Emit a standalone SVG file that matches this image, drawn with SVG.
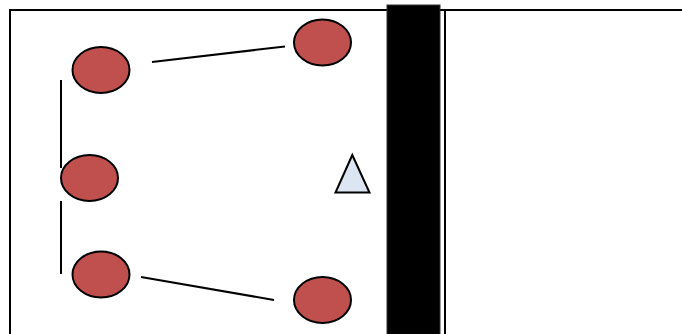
<svg xmlns="http://www.w3.org/2000/svg" width="682" height="334" viewBox="0 0 682 334">
<style>
.n{fill:#c0504d;stroke:#000;stroke-width:2}
.c{stroke:#000;stroke-width:2;fill:none}
.f{stroke:#000;stroke-width:2;fill:none}
</style>
<rect width="682" height="334" fill="#fff"/>
<g id="frame">
<path class="f" d="M10 334V10H682"/>
<line class="f" x1="445" y1="10" x2="445" y2="334"/>
<rect id="bar" x="387" y="5" width="53" height="330" fill="#000" stroke="#333" stroke-width="1"/>
</g>
<g id="connectors">
<line class="c" x1="152" y1="62" x2="285" y2="46.5"/>
<line class="c" x1="61" y1="80" x2="61" y2="168"/>
<line class="c" x1="61" y1="201" x2="61" y2="274"/>
<line class="c" x1="141" y1="277" x2="274" y2="300"/>
</g>
<g id="n1"><ellipse class="n" cx="101" cy="70" rx="28.5" ry="23"/></g>
<g id="n2"><ellipse class="n" cx="322.5" cy="42.5" rx="28.5" ry="23"/></g>
<g id="n3"><ellipse class="n" cx="89.5" cy="178" rx="28.5" ry="23"/></g>
<g id="n4"><ellipse class="n" cx="101" cy="274.5" rx="28.5" ry="23"/></g>
<g id="n5"><ellipse class="n" cx="322.5" cy="300" rx="28.5" ry="23"/></g>
<g id="tri"><polygon points="352.3,155 335.5,192.5 369.5,192.5" fill="#dce6f2" stroke="#000" stroke-width="2"/></g>
</svg>
